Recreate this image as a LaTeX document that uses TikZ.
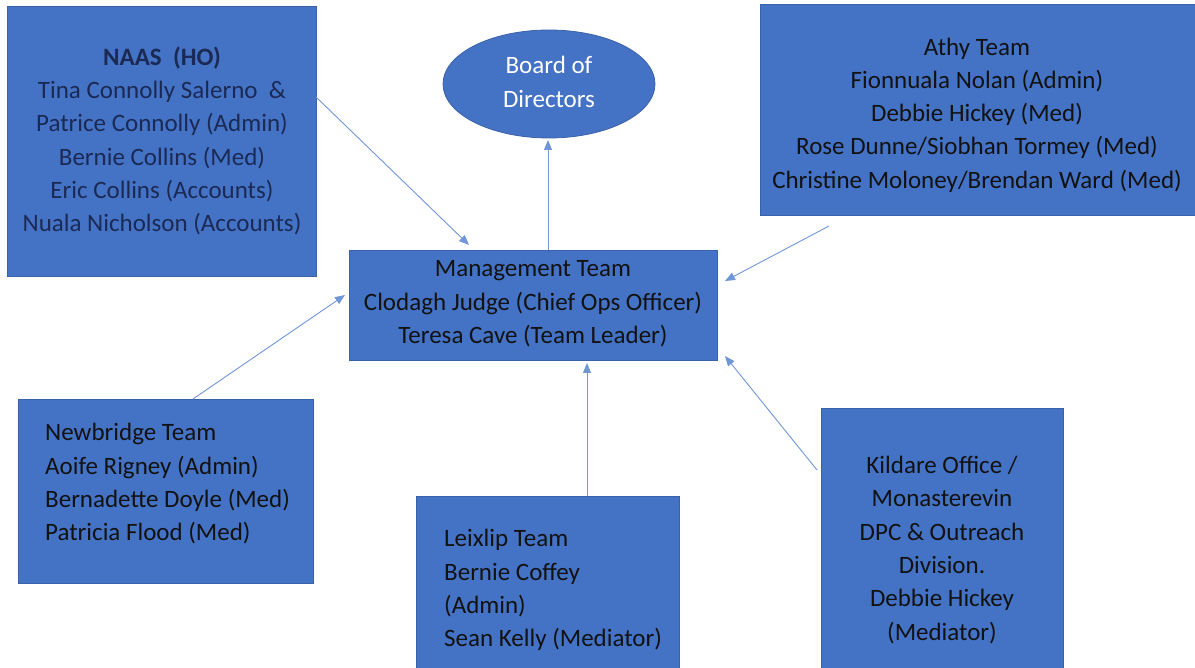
\documentclass[tikz,border=0pt]{standalone}
\usepackage{fontspec}
\setmainfont{Carlito}
\usetikzlibrary{arrows.meta,shapes.geometric}
\definecolor{boxfill}{HTML}{4472C4}
\definecolor{boxline}{HTML}{3A62A8}
\definecolor{arrowc}{HTML}{7096D8}
\definecolor{navy}{HTML}{1B2A55}
\definecolor{txt}{HTML}{121212}
\tikzset{
  box/.style={draw=boxline, line width=0.8pt, fill=boxfill, inner sep=0pt},
  txtc/.style={font=\fontsize{25}{33.3}\selectfont, text=txt, align=center, inner sep=0pt},
  txtl/.style={font=\fontsize{25}{33.3}\selectfont, text=txt, align=left, inner sep=0pt},
  conn/.style={draw=arrowc, line width=0.9pt, -{Triangle[length=10pt,width=8pt]}}
}
\begin{document}
\begin{tikzpicture}[x=1pt,y=-1pt]
\useasboundingbox (0,0) rectangle (1195,668);
\clip (0,0) rectangle (1195,668);
% boxes
\node[box, minimum width=309pt, minimum height=270pt] (naas) at (161.5,141) {};
\node[box, ellipse, minimum width=212pt, minimum height=108pt] (board) at (549,84) {};
\node[box, minimum width=436pt, minimum height=211pt] (athy) at (978,109.5) {};
\node[box, minimum width=368pt, minimum height=110pt] (mgmt) at (533,305) {};
\node[box, minimum width=295pt, minimum height=184pt] (newb) at (165.5,491) {};
\node[box, minimum width=263pt, minimum height=204pt] (leix) at (547.5,598) {};
\node[box, minimum width=242pt, minimum height=284pt] (kild) at (942,550) {};
% texts
\node[txtc, text=navy] (naast) at (162,141) {\textbf{NAAS\ \ (HO)}\\Tina Connolly Salerno\ \ \&\\Patrice Connolly (Admin)\\Bernie Collins (Med)\\Eric Collins (Accounts)\\Nuala Nicholson (Accounts)};
\node[txtc, text=white] (boardt) at (549,82) {Board of\\Directors};
\node[txtc] (athyt) at (977,115) {Athy Team\\Fionnuala Nolan (Admin)\\Debbie Hickey (Med)\\Rose Dunne/Siobhan Tormey (Med)\\Christine Moloney/Brendan Ward (Med)};
\node[txtc] (mgmtt) at (533,304) {Management Team\\Clodagh Judge (Chief Ops Officer)\\Teresa Cave (Team Leader)};
\node[txtl, anchor=west] (newbt) at (45,484) {Newbridge Team\\Aoife Rigney (Admin)\\Bernadette Doyle (Med)\\Patricia Flood (Med)};
\node[txtl, anchor=west] (leixt) at (444,590) {Leixlip Team\\Bernie Coffey\\(Admin)\\Sean Kelly (Mediator)};
\node[txtc] (kildt) at (942,550) {Kildare Office /\\Monasterevin\\DPC \& Outreach\\Division.\\Debbie Hickey\\(Mediator)};
% connector end points
\coordinate (c1s) at (316,97);   \coordinate (c1e) at (469,245);
\coordinate (c2s) at (548,250);  \coordinate (c2e) at (548,140);
\coordinate (c3s) at (829,226);  \coordinate (c3e) at (725,281);
\coordinate (c4s) at (193,399);  \coordinate (c4e) at (345,295);
\coordinate (c5s) at (587,496);  \coordinate (c5e) at (587,363);
\coordinate (c6s) at (817,470);  \coordinate (c6e) at (725,356);
\draw[conn] (c1s) -- (c1e);
\draw[conn] (c2s) -- (c2e);
\draw[conn] (c3s) -- (c3e);
\draw[conn] (c4s) -- (c4e);
\draw[conn] (c5s) -- (c5e);
\draw[conn] (c6s) -- (c6e);
\end{tikzpicture}
\end{document}
